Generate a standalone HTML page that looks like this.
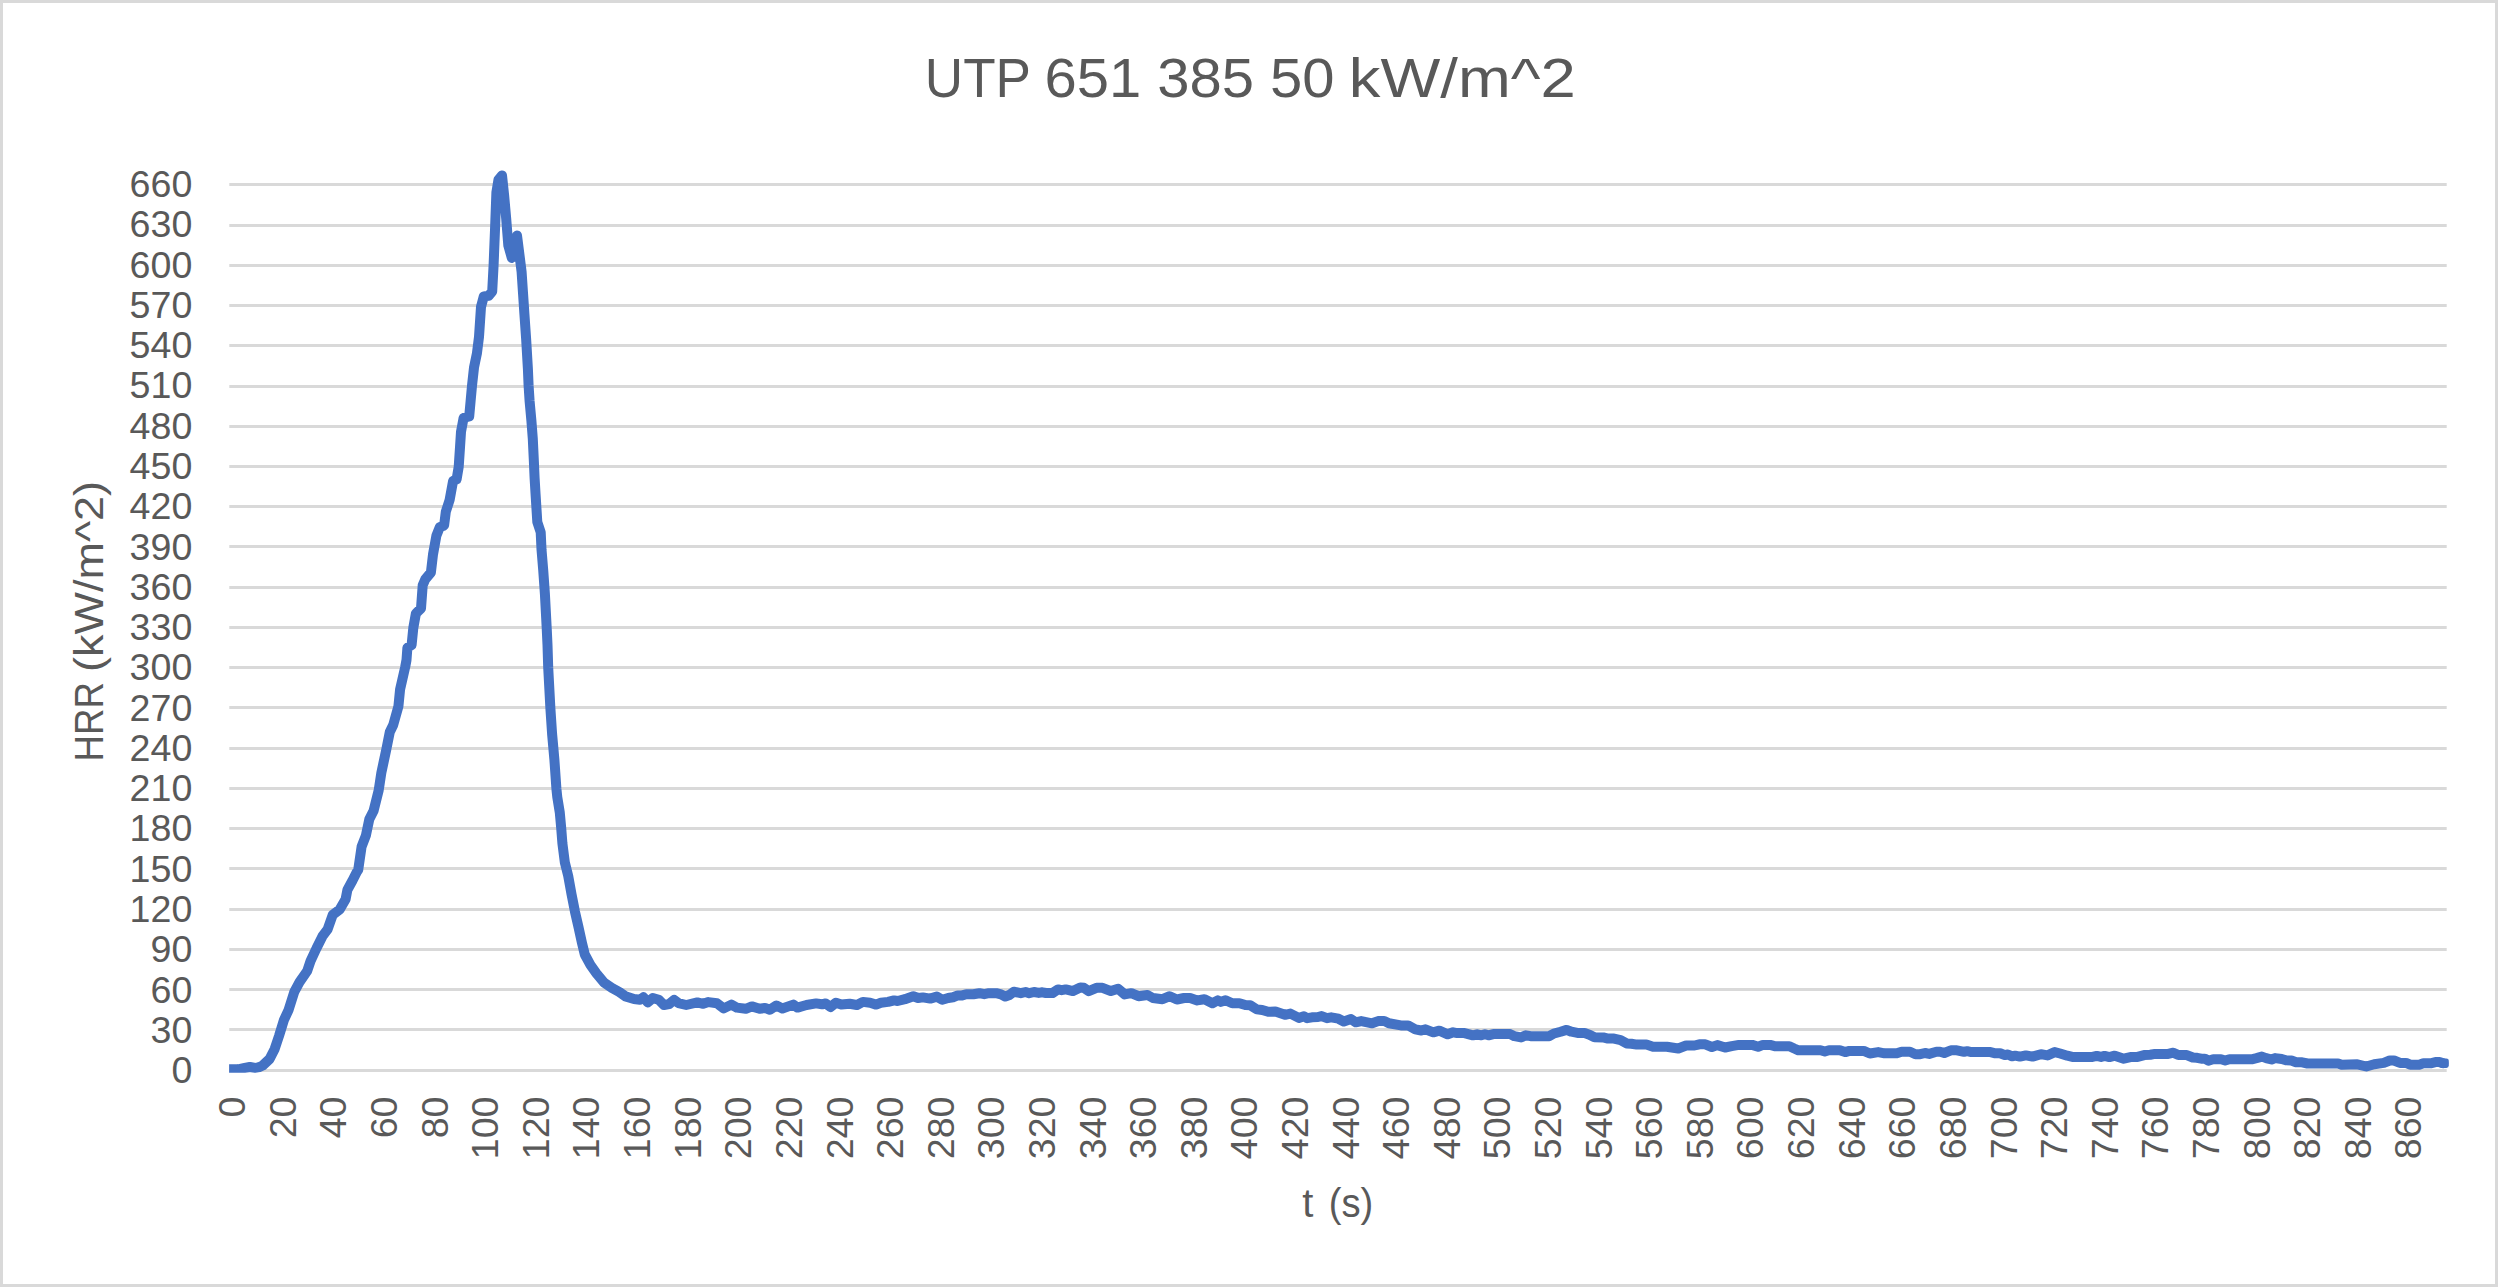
<!DOCTYPE html>
<html lang="en"><head><meta charset="utf-8"><title>UTP 651 385 50 kW/m^2</title>
<style>
html,body{margin:0;padding:0;background:#fff;}
body{width:2498px;height:1287px;overflow:hidden;}
svg{display:block;}
text{font-family:"Liberation Sans", "DejaVu Sans", sans-serif;fill:#595959;}
.ax{font-size:37.6px;}
.at{font-size:40px;}
.ti{font-size:56px;}
</style></head><body>
<svg width="2498" height="1287" viewBox="0 0 2498 1287">
<rect x="0" y="0" width="2498" height="1287" fill="#fff"/>
<rect x="1.5" y="1.5" width="2495" height="1284" fill="none" stroke="#D9D9D9" stroke-width="3"/>

<g stroke="#D9D9D9" stroke-width="3">
<line x1="229.3" y1="1070.50" x2="2446.7" y2="1070.50"/>
<line x1="229.3" y1="1029.50" x2="2446.7" y2="1029.50"/>
<line x1="229.3" y1="989.50" x2="2446.7" y2="989.50"/>
<line x1="229.3" y1="949.50" x2="2446.7" y2="949.50"/>
<line x1="229.3" y1="909.50" x2="2446.7" y2="909.50"/>
<line x1="229.3" y1="868.50" x2="2446.7" y2="868.50"/>
<line x1="229.3" y1="828.50" x2="2446.7" y2="828.50"/>
<line x1="229.3" y1="788.50" x2="2446.7" y2="788.50"/>
<line x1="229.3" y1="748.50" x2="2446.7" y2="748.50"/>
<line x1="229.3" y1="707.50" x2="2446.7" y2="707.50"/>
<line x1="229.3" y1="667.50" x2="2446.7" y2="667.50"/>
<line x1="229.3" y1="627.50" x2="2446.7" y2="627.50"/>
<line x1="229.3" y1="587.50" x2="2446.7" y2="587.50"/>
<line x1="229.3" y1="546.50" x2="2446.7" y2="546.50"/>
<line x1="229.3" y1="506.50" x2="2446.7" y2="506.50"/>
<line x1="229.3" y1="466.50" x2="2446.7" y2="466.50"/>
<line x1="229.3" y1="426.50" x2="2446.7" y2="426.50"/>
<line x1="229.3" y1="386.50" x2="2446.7" y2="386.50"/>
<line x1="229.3" y1="345.50" x2="2446.7" y2="345.50"/>
<line x1="229.3" y1="305.50" x2="2446.7" y2="305.50"/>
<line x1="229.3" y1="265.50" x2="2446.7" y2="265.50"/>
<line x1="229.3" y1="225.50" x2="2446.7" y2="225.50"/>
<line x1="229.3" y1="184.50" x2="2446.7" y2="184.50"/>
</g>
<g class="ax" text-anchor="end">
<text x="192.3" y="1083.10">0</text>
<text x="192.3" y="1042.83">30</text>
<text x="192.3" y="1002.55">60</text>
<text x="192.3" y="962.28">90</text>
<text x="192.3" y="922.01">120</text>
<text x="192.3" y="881.74">150</text>
<text x="192.3" y="841.46">180</text>
<text x="192.3" y="801.19">210</text>
<text x="192.3" y="760.92">240</text>
<text x="192.3" y="720.65">270</text>
<text x="192.3" y="680.37">300</text>
<text x="192.3" y="640.10">330</text>
<text x="192.3" y="599.83">360</text>
<text x="192.3" y="559.55">390</text>
<text x="192.3" y="519.28">420</text>
<text x="192.3" y="479.01">450</text>
<text x="192.3" y="438.74">480</text>
<text x="192.3" y="398.46">510</text>
<text x="192.3" y="358.19">540</text>
<text x="192.3" y="317.92">570</text>
<text x="192.3" y="277.65">600</text>
<text x="192.3" y="237.37">630</text>
<text x="192.3" y="197.10">660</text>
</g>
<g class="ax" text-anchor="end">
<text transform="translate(245.20 1096.5) rotate(-90)">0</text>
<text transform="translate(295.81 1096.5) rotate(-90)">20</text>
<text transform="translate(346.42 1096.5) rotate(-90)">40</text>
<text transform="translate(397.03 1096.5) rotate(-90)">60</text>
<text transform="translate(447.64 1096.5) rotate(-90)">80</text>
<text transform="translate(498.25 1096.5) rotate(-90)">100</text>
<text transform="translate(548.86 1096.5) rotate(-90)">120</text>
<text transform="translate(599.47 1096.5) rotate(-90)">140</text>
<text transform="translate(650.07 1096.5) rotate(-90)">160</text>
<text transform="translate(700.68 1096.5) rotate(-90)">180</text>
<text transform="translate(751.29 1096.5) rotate(-90)">200</text>
<text transform="translate(801.90 1096.5) rotate(-90)">220</text>
<text transform="translate(852.51 1096.5) rotate(-90)">240</text>
<text transform="translate(903.12 1096.5) rotate(-90)">260</text>
<text transform="translate(953.73 1096.5) rotate(-90)">280</text>
<text transform="translate(1004.34 1096.5) rotate(-90)">300</text>
<text transform="translate(1054.95 1096.5) rotate(-90)">320</text>
<text transform="translate(1105.56 1096.5) rotate(-90)">340</text>
<text transform="translate(1156.17 1096.5) rotate(-90)">360</text>
<text transform="translate(1206.78 1096.5) rotate(-90)">380</text>
<text transform="translate(1257.39 1096.5) rotate(-90)">400</text>
<text transform="translate(1308.00 1096.5) rotate(-90)">420</text>
<text transform="translate(1358.60 1096.5) rotate(-90)">440</text>
<text transform="translate(1409.21 1096.5) rotate(-90)">460</text>
<text transform="translate(1459.82 1096.5) rotate(-90)">480</text>
<text transform="translate(1510.43 1096.5) rotate(-90)">500</text>
<text transform="translate(1561.04 1096.5) rotate(-90)">520</text>
<text transform="translate(1611.65 1096.5) rotate(-90)">540</text>
<text transform="translate(1662.26 1096.5) rotate(-90)">560</text>
<text transform="translate(1712.87 1096.5) rotate(-90)">580</text>
<text transform="translate(1763.48 1096.5) rotate(-90)">600</text>
<text transform="translate(1814.09 1096.5) rotate(-90)">620</text>
<text transform="translate(1864.70 1096.5) rotate(-90)">640</text>
<text transform="translate(1915.31 1096.5) rotate(-90)">660</text>
<text transform="translate(1965.92 1096.5) rotate(-90)">680</text>
<text transform="translate(2016.53 1096.5) rotate(-90)">700</text>
<text transform="translate(2067.13 1096.5) rotate(-90)">720</text>
<text transform="translate(2117.74 1096.5) rotate(-90)">740</text>
<text transform="translate(2168.35 1096.5) rotate(-90)">760</text>
<text transform="translate(2218.96 1096.5) rotate(-90)">780</text>
<text transform="translate(2269.57 1096.5) rotate(-90)">800</text>
<text transform="translate(2320.18 1096.5) rotate(-90)">820</text>
<text transform="translate(2370.79 1096.5) rotate(-90)">840</text>
<text transform="translate(2421.40 1096.5) rotate(-90)">860</text>
</g>
<text class="ti" y="96.7"><tspan x="924.8" textLength="105.2" lengthAdjust="spacingAndGlyphs">UTP</tspan> <tspan x="1044.5" textLength="290" lengthAdjust="spacingAndGlyphs">651 385 50</tspan> <tspan x="1348.8" textLength="227" lengthAdjust="spacingAndGlyphs">kW/m^2</tspan></text>
<text class="at" y="1216.8"><tspan x="1302.2">t</tspan> <tspan x="1328.7" textLength="44.5" lengthAdjust="spacingAndGlyphs">(s)</tspan></text>
<text class="at" transform="translate(103.4 757.3) rotate(-90)"><tspan x="-4.3" textLength="79.5" lengthAdjust="spacingAndGlyphs">HRR</tspan> <tspan x="85.4" textLength="191" lengthAdjust="spacingAndGlyphs">(kW/m^2)</tspan></text>
<clipPath id="cp"><rect x="229.1" y="150" width="2260" height="922.8"/></clipPath>
<path d="M229.4 1069.3 L238.0 1069.3 L243.5 1068.2 L249.9 1067.0 L255.5 1068.0 L259.0 1067.2 L262.7 1065.5 L269.6 1059.0 L274.7 1048.9 L279.0 1036.0 L284.0 1019.8 L288.4 1010.4 L294.4 991.6 L299.5 982.2 L307.2 971.0 L310.6 960.9 L316.6 948.0 L322.6 936.0 L327.7 929.2 L332.8 914.7 L339.7 909.6 L345.6 899.3 L347.4 889.9 L352.5 880.5 L356.8 872.0 L358.2 870.0 L361.6 846.6 L365.9 835.5 L369.3 819.2 L373.6 810.7 L378.7 790.2 L381.3 773.0 L386.4 749.0 L389.8 732.0 L393.2 725.0 L398.4 706.4 L400.1 689.3 L405.2 667.0 L406.5 660.0 L407.4 647.7 L411.6 645.1 L413.3 628.0 L415.9 613.5 L421.0 608.4 L422.7 585.3 L425.3 579.3 L430.9 572.5 L433.0 554.5 L436.4 535.7 L439.8 527.2 L444.1 525.5 L445.8 511.8 L449.6 500.0 L453.1 480.8 L456.6 479.4 L458.7 466.9 L460.1 445.9 L461.0 431.9 L463.6 417.9 L469.2 416.5 L470.6 401.1 L472.0 385.7 L474.0 367.6 L476.9 353.6 L479.0 336.8 L481.0 306.9 L483.8 296.4 L488.7 295.7 L492.2 291.5 L493.6 264.9 L495.0 229.9 L496.4 192.2 L498.5 179.6 L502.0 175.4 L504.1 195.0 L506.2 218.7 L508.3 245.3 L511.8 257.9 L514.6 243.9 L517.0 235.5 L519.5 255.1 L521.6 271.9 L523.0 292.9 L524.4 313.8 L526.2 340.0 L527.9 369.0 L528.6 385.7 L529.6 401.1 L531.4 420.7 L532.8 438.9 L533.8 459.9 L534.6 478.0 L535.6 494.7 L537.3 522.0 L540.7 532.3 L541.5 549.4 L543.2 569.9 L544.9 593.8 L545.8 610.9 L546.7 628.0 L547.5 645.1 L548.2 667.4 L550.4 708.4 L552.1 734.0 L554.4 759.7 L556.4 788.7 L557.3 797.3 L559.8 812.6 L561.2 828.0 L562.4 843.4 L564.8 862.2 L568.2 875.9 L571.6 894.7 L575.0 911.8 L578.5 927.2 L581.9 942.6 L584.8 954.5 L590.4 964.8 L596.4 973.3 L604.1 982.7 L611.8 987.9 L619.5 992.1 L625.5 996.4 L634.0 999.0 L640.0 999.8 L643.4 997.3 L647.7 1002.4 L652.8 998.1 L658.8 999.8 L663.9 1005.0 L669.1 1004.1 L674.2 999.8 L678.5 1003.2 L686.2 1005.0 L697.3 1002.4 L703.2 1003.8 L708.4 1002.1 L716.9 1003.2 L723.8 1008.4 L731.4 1004.6 L736.8 1007.6 L745.8 1008.8 L751.8 1006.4 L759.6 1008.8 L765.0 1007.9 L769.8 1009.7 L776.4 1005.5 L782.4 1008.5 L793.3 1004.6 L797.5 1007.6 L806.5 1005.0 L816.1 1003.4 L822.1 1004.3 L825.7 1003.4 L830.5 1007.0 L835.9 1002.8 L841.3 1004.6 L849.7 1003.8 L856.9 1005.0 L862.9 1001.9 L870.1 1002.8 L876.1 1004.6 L880.9 1002.8 L888.1 1001.9 L894.1 1000.4 L897.7 1001.0 L904.9 999.2 L913.3 996.2 L918.1 998.0 L922.9 997.4 L930.2 998.6 L936.8 996.6 L942.2 999.8 L948.2 998.0 L953.0 997.2 L957.8 995.4 L961.4 995.6 L966.2 994.2 L973.4 994.2 L979.4 993.2 L984.2 994.2 L989.0 993.2 L996.2 993.2 L1001.0 994.4 L1005.2 996.6 L1009.4 995.0 L1013.8 991.7 L1020.8 993.2 L1025.6 992.0 L1029.2 993.2 L1034.0 992.0 L1038.8 992.9 L1042.4 992.3 L1046.0 993.0 L1052.6 993.0 L1058.0 989.4 L1061.6 990.2 L1065.8 989.4 L1073.0 991.1 L1080.3 987.5 L1083.9 987.8 L1088.7 991.1 L1096.5 987.8 L1102.5 987.8 L1110.9 991.1 L1118.1 988.7 L1124.7 994.4 L1131.3 993.2 L1138.5 996.2 L1147.5 995.0 L1152.9 998.0 L1162.5 999.2 L1169.7 996.2 L1176.9 999.5 L1184.1 998.0 L1190.1 998.0 L1197.3 1000.4 L1204.5 999.2 L1212.4 1003.2 L1217.8 1000.4 L1220.8 1001.9 L1225.6 1000.2 L1232.2 1003.2 L1239.4 1003.2 L1245.4 1005.0 L1250.2 1005.2 L1256.8 1009.4 L1262.2 1010.0 L1268.2 1011.8 L1275.4 1011.5 L1285.0 1014.8 L1290.4 1013.6 L1298.8 1017.9 L1303.9 1016.2 L1307.2 1018.2 L1312.0 1017.3 L1318.0 1017.0 L1321.6 1016.1 L1327.0 1018.2 L1331.2 1017.3 L1338.4 1018.7 L1343.8 1021.5 L1351.0 1019.1 L1355.8 1022.3 L1361.2 1021.1 L1372.1 1023.3 L1378.1 1021.1 L1384.1 1020.9 L1388.9 1023.3 L1400.9 1025.4 L1408.1 1025.4 L1415.3 1029.3 L1421.3 1030.5 L1425.5 1029.3 L1433.3 1032.3 L1439.3 1030.7 L1447.7 1034.3 L1453.1 1032.3 L1457.3 1033.1 L1464.5 1033.1 L1472.9 1035.3 L1477.1 1034.3 L1481.3 1035.3 L1484.9 1034.3 L1488.5 1035.3 L1493.3 1034.1 L1510.2 1034.1 L1514.4 1036.2 L1521.0 1037.4 L1525.8 1035.3 L1530.6 1036.2 L1549.2 1036.2 L1554.0 1033.5 L1560.6 1031.7 L1566.6 1029.9 L1571.4 1031.7 L1578.6 1033.1 L1584.6 1033.1 L1589.4 1034.7 L1594.5 1037.2 L1603.2 1037.4 L1608.0 1038.6 L1614.0 1038.6 L1620.6 1040.1 L1626.6 1043.4 L1631.4 1043.7 L1636.8 1044.6 L1646.4 1044.6 L1653.0 1046.7 L1666.9 1046.7 L1671.7 1047.5 L1678.3 1048.5 L1686.1 1045.5 L1694.5 1045.5 L1699.3 1044.3 L1705.3 1044.3 L1711.9 1047.0 L1717.3 1045.1 L1725.1 1047.5 L1731.7 1046.1 L1738.9 1044.9 L1752.1 1044.9 L1758.1 1046.7 L1762.9 1044.9 L1770.1 1044.9 L1775.5 1046.3 L1789.4 1046.3 L1794.2 1048.5 L1798.4 1050.3 L1820.6 1050.3 L1824.8 1051.5 L1829.0 1050.3 L1839.8 1050.3 L1845.2 1052.1 L1849.4 1050.9 L1863.8 1050.9 L1869.8 1053.5 L1878.2 1052.1 L1884.5 1053.3 L1896.8 1053.3 L1901.6 1051.8 L1910.0 1051.8 L1915.4 1054.2 L1920.2 1054.2 L1925.0 1053.0 L1929.2 1053.9 L1936.4 1051.8 L1940.0 1051.8 L1944.2 1053.0 L1950.9 1050.3 L1956.9 1050.3 L1964.1 1051.8 L1967.1 1051.2 L1971.3 1052.1 L1990.5 1052.1 L1995.3 1053.3 L2000.1 1053.3 L2004.9 1055.1 L2007.9 1054.5 L2012.1 1056.3 L2015.1 1055.7 L2019.9 1056.6 L2025.9 1055.4 L2032.5 1056.6 L2040.9 1054.2 L2047.5 1055.4 L2054.7 1052.1 L2060.1 1053.5 L2067.3 1055.7 L2073.3 1057.1 L2091.4 1057.1 L2096.8 1055.9 L2101.0 1056.9 L2104.6 1055.9 L2109.4 1057.1 L2114.8 1055.7 L2123.8 1058.7 L2130.4 1057.1 L2137.6 1056.9 L2144.2 1055.1 L2150.2 1054.7 L2155.0 1053.9 L2168.2 1053.9 L2173.3 1052.7 L2178.4 1055.1 L2186.8 1055.1 L2192.8 1057.5 L2197.0 1057.8 L2201.2 1058.7 L2204.8 1058.7 L2208.4 1060.7 L2213.2 1059.3 L2221.0 1059.3 L2225.2 1060.5 L2229.4 1059.3 L2251.7 1059.3 L2256.5 1058.1 L2261.9 1056.6 L2266.1 1058.1 L2271.5 1059.5 L2275.1 1058.1 L2281.7 1059.0 L2285.9 1060.2 L2291.3 1060.5 L2296.1 1062.3 L2302.1 1062.3 L2307.5 1063.5 L2338.1 1063.5 L2341.7 1064.7 L2357.3 1064.3 L2366.3 1066.5 L2374.2 1064.3 L2383.8 1062.9 L2389.8 1060.5 L2394.0 1060.5 L2400.0 1062.9 L2406.0 1062.9 L2410.2 1064.7 L2419.2 1064.7 L2423.4 1063.3 L2430.6 1063.3 L2435.4 1062.1 L2439.6 1062.1 L2443.4 1063.2" fill="none" stroke="#4472C4" stroke-width="10" stroke-linejoin="round" stroke-linecap="round" clip-path="url(#cp)"/>
<rect x="2439" y="1058.4" width="9.8" height="9.6" rx="2.4" fill="#4472C4"/>
</svg></body></html>
